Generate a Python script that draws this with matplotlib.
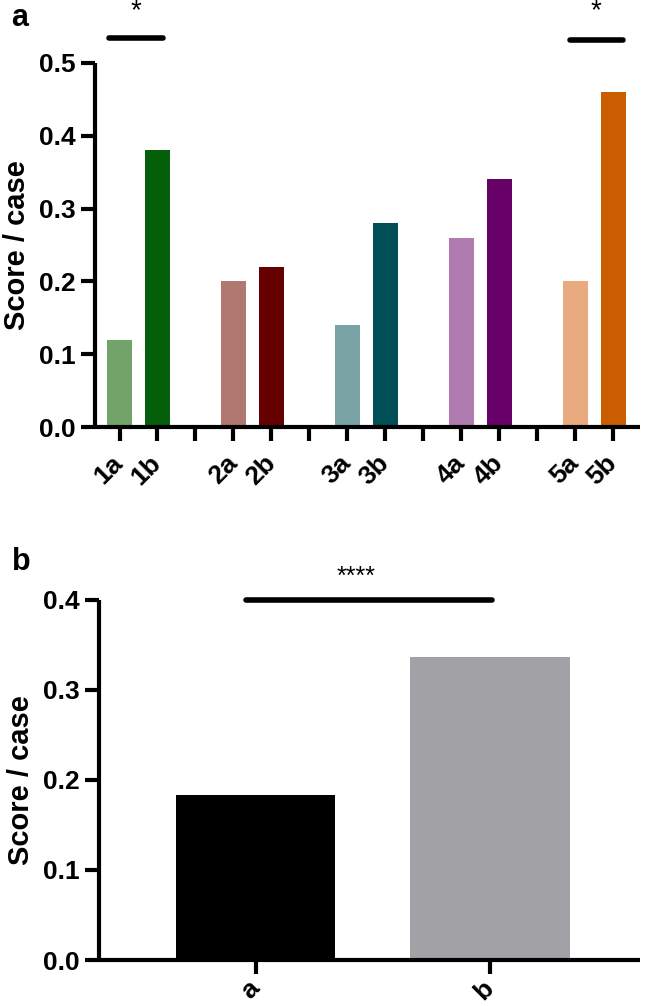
import matplotlib.pyplot as plt
import numpy as np

plt.rcParams['font.family'] = ['Liberation Sans', 'DejaVu Sans']
plt.rcParams['font.weight'] = 'bold'

# panel a data
labels_a = ['1a', '1b', '2a', '2b', '3a', '3b', '4a', '4b', '5a', '5b']
values_a = [0.12, 0.38, 0.20, 0.22, 0.14, 0.28, 0.26, 0.34, 0.20, 0.46]
colors_a = ['#72a46a', '#045e0a', '#b07870', '#660000', '#7aa3a6',
            '#004f57', '#b07baf', '#660066', '#e8aa7e', '#cc5c00']
# positions: pairs separated by one empty slot
pos_a = [0, 1, 3, 4, 6, 7, 9, 10, 12, 13]
gap_ticks = [2, 5, 8, 11]

# panel b data
labels_b = ['a', 'b']
values_b = [0.183, 0.337]
colors_b = ['#000000', '#a2a1a6']

lw = 3.0


def style_axes(ax, xpad):
    for s in ['top', 'right']:
        ax.spines[s].set_visible(False)
    for s in ['left', 'bottom']:
        ax.spines[s].set_linewidth(lw)
        ax.spines[s].set_capstyle('butt')
    ax.tick_params(width=lw, length=10, labelsize=19)
    ax.tick_params(axis='x', pad=xpad)
    for t in ax.get_yticklabels():
        t.set_fontweight('bold')


fig = plt.figure(figsize=(6.45, 10.06), dpi=100)

# ---- panel a
ax1 = fig.add_axes([0.147, 0.5755, 0.845, 0.362])
ax1.bar(pos_a, values_a, width=0.66, color=colors_a)
ax1.set_xlim(-0.65, 13.7)
ax1.set_ylim(0, 0.5)
ax1.set_yticks(np.arange(0, 0.51, 0.1))
ax1.set_yticklabels(['%.1f' % v for v in np.arange(0, 0.51, 0.1)])
ax1.set_xticks(pos_a + gap_ticks)
ax1.set_xticklabels(labels_a + [''] * len(gap_ticks), rotation=45,
                    ha='right', va='center', rotation_mode='anchor', fontsize=19)
ax1.set_ylabel('Score / case', fontsize=21, fontweight='bold', labelpad=6)
style_axes(ax1, 13)

# significance marks
ax1.plot([-0.27, 1.14], [0.534, 0.534], color='black', lw=4,
         solid_capstyle='round', clip_on=False)
ax1.text(0.43, 0.571, '*', ha='center', va='center', fontsize=20,
         fontweight='normal')
ax1.plot([11.85, 13.26], [0.531, 0.531], color='black', lw=4,
         solid_capstyle='round', clip_on=False)
ax1.text(12.55, 0.571, '*', ha='center', va='center', fontsize=20,
         fontweight='normal')

fig.text(0.018, 0.982, 'a', fontsize=22, fontweight='bold', va='center')

# ---- panel b
ax2 = fig.add_axes([0.153, 0.0457, 0.839, 0.358])
ax2.bar([0, 1], values_b, width=0.68, color=colors_b)
ax2.set_xlim(-0.67, 1.64)
ax2.set_ylim(0, 0.4)
ax2.set_yticks(np.arange(0, 0.41, 0.1))
ax2.set_yticklabels(['%.1f' % v for v in np.arange(0, 0.41, 0.1)])
ax2.set_xticks([0, 1])
ax2.set_xticklabels(labels_b, rotation=45, ha='right', va='center',
                    rotation_mode='anchor', fontsize=19)
ax2.set_ylabel('Score / case', fontsize=21, fontweight='bold', labelpad=6)
style_axes(ax2, 8)

ax2.plot([-0.04, 1.01], [0.4, 0.4], color='black', lw=4,
         solid_capstyle='round', clip_on=False)
ax2.text(0.43, 0.426, '****', ha='center', va='center', fontsize=18,
         fontweight='normal')

fig.text(0.018, 0.441, 'b', fontsize=22, fontweight='bold', va='center')

fig.savefig('out.png', dpi=100)
